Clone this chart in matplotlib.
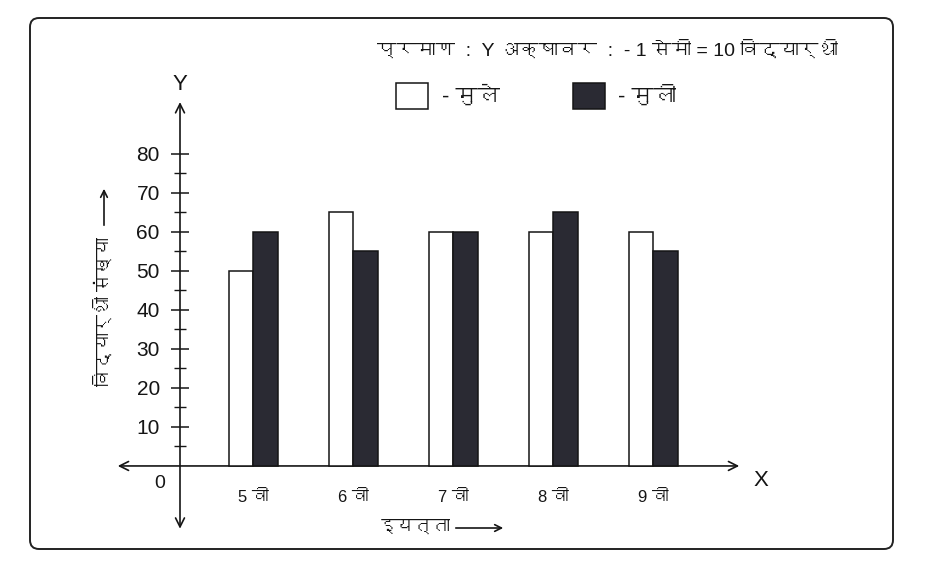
import matplotlib
matplotlib.use("Agg")
import matplotlib.pyplot as plt
from matplotlib import font_manager
from matplotlib.ft2font import FT2Font
from matplotlib.patches import FancyBboxPatch
from matplotlib.ticker import MultipleLocator

# data
classes = ["5 वी", "6 वी", "7 वी", "8 वी", "9 वी"]
boys = [50, 65, 60, 60, 60]    # मुले
girls = [60, 55, 60, 65, 55]   # मुली
y_ticks = [10, 20, 30, 40, 50, 60, 70, 80]


# look for an installed font that has Devanagari glyphs
def find_devanagari():
    for f in font_manager.fontManager.ttflist:
        try:
            if 0x0915 in FT2Font(f.fname).get_charmap():
                return f.name
        except Exception:
            pass
    return None


deva = find_devanagari()
fams = ["Liberation Sans"] + ([deva] if deva else []) + ["DejaVu Sans"]
plt.rcParams['font.family'] = fams
ink = "#151515"

fig = plt.figure(figsize=(9.41, 5.65), dpi=100)
fig.patch.set_facecolor("white")

# background layer in pixel units: frame and loose texts
bg = fig.add_axes([0, 0, 1, 1])
bg.set_xlim(0, 941)
bg.set_ylim(565, 0)
bg.axis("off")
bg.add_patch(FancyBboxPatch((30, 18), 863, 531, boxstyle="round,pad=0,rounding_size=9",
                            fill=False, ec="#222222", lw=1.4))
bg.text(838, 50, "प्रमाण  :  Y अक्षावर  :  - 1 सेमी = 10 विद्यार्थी", fontsize=14,
        color=ink, va="center", ha="right", family=fams)
bg.text(180, 84, "Y", fontsize=16, color=ink, ha="center", va="center", family=fams)
bg.text(761, 480, "X", fontsize=16, color=ink, ha="center", va="center", family=fams)
bg.text(160, 483, "0", fontsize=14, color=ink, ha="center", va="center", family=fams)

# axis titles with long arrows
bg.text(104, 312, "विद्यार्थी संख्या", fontsize=13, color=ink, rotation=90,
        ha="center", va="center", family=fams)
bg.annotate("", xy=(104, 186), xytext=(104, 228),
            arrowprops=dict(arrowstyle="->", color=ink, lw=1.2, mutation_scale=12))
bg.text(451, 527, "इयत्ता", fontsize=13, color=ink, ha="right", va="center", family=fams)
bg.annotate("", xy=(506, 528), xytext=(453, 528),
            arrowprops=dict(arrowstyle="->", color=ink, lw=1.2, mutation_scale=12))

# main chart
ax = fig.add_axes([110 / 941, 1 - 535 / 565, 640 / 941, 440 / 565])
ax.set_facecolor("none")
ax.set_xlim(-1.43, 4.97)
ax.set_ylim(-17.7, 95.1)

x = list(range(len(classes)))
w = 0.245
b1 = ax.bar([i - w / 2 for i in x], boys, width=w, color="white", edgecolor=ink, linewidth=1.1, zorder=3)
b2 = ax.bar([i + w / 2 for i in x], girls, width=w, color="#2a2a33", edgecolor=ink, linewidth=1.1, zorder=3)

# axes drawn as double headed arrows
y0 = -0.73
ax.annotate("", xy=(4.89, 0), xytext=(-1.38, 0),
            arrowprops=dict(arrowstyle="<->", color=ink, lw=1.2, mutation_scale=16), zorder=2)
ax.annotate("", xy=(y0, 94.0), xytext=(y0, -16.8),
            arrowprops=dict(arrowstyle="<->", color=ink, lw=1.2, mutation_scale=16), zorder=2)

for s in ["top", "right"]:
    ax.spines[s].set_visible(False)
ax.spines["left"].set_position(("data", y0))
ax.spines["bottom"].set_position(("data", 0))
ax.spines["left"].set_visible(False)
ax.spines["bottom"].set_visible(False)

ax.set_yticks(y_ticks)
ax.yaxis.set_minor_locator(MultipleLocator(5))
ax.set_yticks([v for v in range(5, 80, 10)], minor=True)
ax.tick_params(axis="y", which="major", direction="inout", length=13, width=1.1, color=ink,
               labelsize=15, labelcolor=ink, pad=8)
ax.tick_params(axis="y", which="minor", direction="inout", length=8, width=1.0, color=ink)

ax.set_xticks(x)
ax.set_xticklabels(classes)
ax.tick_params(axis="x", length=0, labelsize=12, labelcolor=ink, pad=17)

ax.legend([b1, b2], ["- मुले", "- मुली"], ncol=2, frameon=False, fontsize=16,
          loc="upper left", bbox_to_anchor=(396 / 941, 1 - 83 / 565), bbox_transform=fig.transFigure,
          borderpad=0, borderaxespad=0, handlelength=1.45, handleheight=1.4,
          handletextpad=0.6, columnspacing=3.3, labelcolor=ink)

fig.savefig("out.png", dpi=100)
